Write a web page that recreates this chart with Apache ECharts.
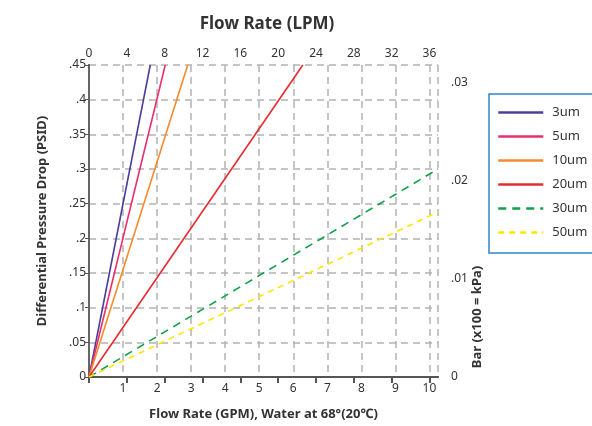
<!DOCTYPE html>
<html>
<head>
<meta charset="utf-8">
<script src="https://cdn.jsdelivr.net/npm/echarts@6/dist/echarts.min.js"></script>
<style>
  html, body { margin: 0; padding: 0; background: #fff; }
  #chart { width: 592px; height: 426px; }
</style>
</head>
<body>
<div id="chart"></div>
<script>
// series names and colours
const filterNames = ['3um', '5um', '10um', '20um', '30um', '50um']
const lineColors = ['#4b3f9c', '#ea2f6b', '#f78b2c', '#e62a30', '#11a04b', '#ffe600']
const lineTypes = ['solid', 'solid', 'solid', 'solid', [8, 6], [6, 5]]

// each line: [GPM, PSID] from origin to the point where it leaves the plot
const line3um = [[0, 0], [1.8, 0.45]]
const line5um = [[0, 0], [2.24, 0.45]]
const line10um = [[0, 0], [2.9, 0.45]]
const line20um = [[0, 0], [6.28, 0.45]]
const line30um = [[0, 0], [10.25, 0.3]]
const line50um = [[0, 0], [10.25, 0.238]]
const lineData = [line3um, line5um, line10um, line20um, line30um, line50um]

// axis ranges
const gpmMax = 10.25
const lpmMax = 36.9
const psiMax = 0.45
const barMax = 0.0318

const font = 'Noto Sans'
const stripZero = v => (v === 0 ? '0' : String(+v.toFixed(3)).replace(/^0/, ''))

const chart = echarts.init(document.getElementById('chart'))

chart.setOption({
  animation: false,
  textStyle: { fontFamily: font },
  title: {
    text: 'Flow Rate (LPM)',
    left: 262, top: 11, textAlign: 'center',
    textStyle: { fontFamily: font, fontSize: 17, fontWeight: 'bold', color: '#333' }
  },
  grid: { left: 89, right: 154, top: 65, bottom: 45 },
  legend: {
    left: 489, top: 94,
    orient: 'vertical',
    itemWidth: 45, itemHeight: 14, itemGap: 11,
    padding: [12, 40, 14, 8],
    borderColor: '#2f86c8', borderWidth: 1.5,
    itemStyle: { opacity: 0 },
    lineStyle: { width: 2.5 },
    textStyle: { fontFamily: font, fontSize: 13, color: '#333', padding: [0, 0, 0, 4] },
    data: filterNames
  },
  xAxis: [
    {
      type: 'value', position: 'bottom',
      min: 0, max: gpmMax, interval: 1,
      name: 'Flow Rate (GPM), Water at 68°(20℃)',
      nameLocation: 'middle', nameGap: 31,
      nameTextStyle: { fontFamily: font, fontSize: 13, fontWeight: 'bold', color: '#333' },
      axisLine: { show: true, lineStyle: { color: '#666', width: 2 } },
      axisTick: { show: false },
      axisLabel: { showMinLabel: false, showMaxLabel: false, margin: 6, fontSize: 12, color: '#333' },
      splitLine: { show: true, lineStyle: { color: '#b3b3b3', type: [7, 5], width: 1.5 } }
    },
    {
      type: 'value', position: 'top',
      min: 0, max: lpmMax, interval: 4,
      axisLine: { show: true, lineStyle: { color: '#555', width: 2 } },
      axisTick: { show: true, inside: true, length: 6, lineStyle: { color: '#555', width: 2 } },
      axisLabel: { showMaxLabel: false, margin: 5, fontSize: 12, color: '#333' },
      splitLine: { show: false }
    }
  ],
  yAxis: [
    {
      type: 'value', position: 'left',
      min: 0, max: psiMax, interval: 0.05,
      name: 'Differential Pressure Drop (PSID)',
      nameLocation: 'middle', nameGap: 40, nameRotate: 90,
      nameTextStyle: { fontFamily: font, fontSize: 13, fontWeight: 'bold', color: '#333' },
      axisLine: { show: true, lineStyle: { color: '#555', width: 2 } },
      axisTick: { show: true, length: 4, lineStyle: { color: '#555' } },
      axisLabel: { formatter: stripZero, margin: 3, fontSize: 12, color: '#333' },
      splitLine: { show: true, lineStyle: { color: '#b3b3b3', type: [7, 5], width: 1.5 } }
    },
    {
      type: 'value', position: 'right',
      min: 0, max: barMax, interval: 0.01,
      axisLine: { show: true, lineStyle: { color: '#666', width: 2 } },
      axisTick: { show: false },
      axisLabel: { formatter: stripZero, showMaxLabel: false, margin: 13, fontSize: 12, color: '#333' },
      splitLine: { show: false }
    }
  ],
  graphic: [
    {
      type: 'text', x: 477, y: 317, rotation: Math.PI / 2,
      style: {
        text: 'Bar (x100 = kPa)', fill: '#333',
        font: 'bold 13px "Noto Sans"',
        align: 'center', verticalAlign: 'middle'
      }
    }
  ],
  series: filterNames.map((name, i) => ({
    name,
    type: 'line',
    xAxisIndex: 0, yAxisIndex: 0,
    data: lineData[i],
    showSymbol: false,
    symbol: 'none',
    color: lineColors[i],
    lineStyle: { color: lineColors[i], width: 1.6, type: lineTypes[i] },
    clip: true
  }))
})
</script>
</body>
</html>
